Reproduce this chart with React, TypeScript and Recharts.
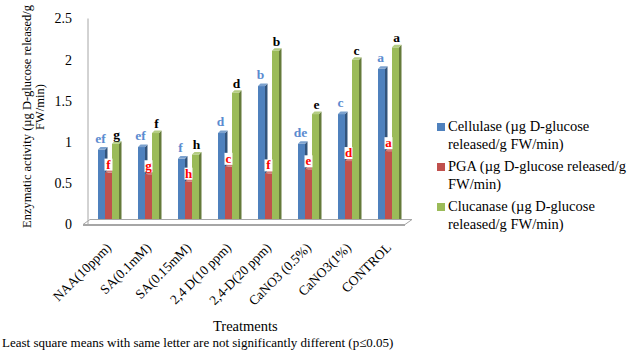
import React from 'react';
import { BarChart, Bar, XAxis, YAxis, LabelList, ReferenceLine, Legend } from 'recharts';

const categories = ['NAA(10ppm)', 'SA(0.1mM)', 'SA(0.15mM)', '2,4 D(10 ppm)', '2,4-D(20 ppm)', 'CaNO3 (0.5%)', 'CaNO3(1%)', 'CONTROL'];
const cellulase = [0.91, 0.94, 0.80, 1.11, 1.68, 0.98, 1.34, 1.89];
const pga = [0.63, 0.61, 0.52, 0.70, 0.62, 0.67, 0.77, 0.89];
const glucanase = [0.98, 1.11, 0.85, 1.60, 2.11, 1.34, 2.00, 2.15];
const cellulaseLetters = ['ef', 'ef', 'f', 'd', 'b', 'de', 'c', 'a'];
const pgaLetters = ['f', 'g', 'h', 'c', 'f', 'e', 'd', 'a'];
const glucanaseLetters = ['g', 'f', 'h', 'd', 'b', 'e', 'c', 'a'];
const yTicks = [0, 0.5, 1, 1.5, 2, 2.5];
const seriesNames = [
  'Cellulase (µg D-glucose released/g  FW/min)',
  'PGA (µg D-glucose released/g FW/min)',
  'Clucanase (µg D-glucose released/g  FW/min)',
];

const data = categories.map((c, i) => ({
  name: c,
  cellulase: cellulase[i],
  pga: pga[i],
  glucanase: glucanase[i],
  cl: cellulaseLetters[i],
  pl: pgaLetters[i],
  gl: glucanaseLetters[i],
}));

const FONT = '"Liberation Serif", "Times New Roman", serif';
const BLUE = '#4F81BD';
const RED = '#C0504D';
const GREEN = '#9BBB59';

function shade(hex: string, f: number) {
  const n = parseInt(hex.slice(1), 16);
  const r = (n >> 16) & 255, g = (n >> 8) & 255, b = n & 255;
  const m = (v: number) => Math.max(0, Math.min(255, Math.round(f < 1 ? v * f : v + (255 - v) * (f - 1))));
  return `rgb(${m(r)},${m(g)},${m(b)})`;
}

const make3D = (color: string) => (props: any) => {
  const { x, y, width, height } = props;
  if (height == null || width == null) return null;
  const d = 2.5;
  return (
    <g>
      <rect x={x} y={y} width={width} height={height} fill={color} />
      <polygon
        points={`${x + width},${y} ${x + width + d},${y - d} ${x + width + d},${y + height - d} ${x + width},${y + height}`}
        fill={shade(color, 0.65)}
      />
      <polygon
        points={`${x},${y} ${x + d},${y - d} ${x + width + d},${y - d} ${x + width},${y}`}
        fill={shade(color, 1.25)}
      />
    </g>
  );
};

const blueLabel = (props: any) => {
  const { x, y, width, value } = props;
  return (
    <text x={x + width / 2 - 1} y={y - 7} textAnchor="middle" fill="#5B8BD0" fontFamily={FONT} fontWeight="bold" fontSize={13.5}>
      {value}
    </text>
  );
};

const redLabel = (props: any) => {
  const { x, y, width, value } = props;
  const w = value.length * 7 + 1;
  return (
    <g>
      <rect x={x + width / 2 - w / 2} y={y - 14} width={w} height={12} fill="#fff" />
      <text x={x + width / 2} y={y - 4} textAnchor="middle" fill="#FF0000" fontFamily={FONT} fontWeight="bold" fontSize={13}>
        {value}
      </text>
    </g>
  );
};

const blackLabel = (props: any) => {
  const { x, y, width, value } = props;
  return (
    <text x={x + width / 2 + 1} y={y - 5} textAnchor="middle" fill="#000" fontFamily={FONT} fontWeight="bold" fontSize={13.5}>
      {value}
    </text>
  );
};

const XTick = (props: any) => {
  const { x, y, payload } = props;
  const tx = x + 4;
  const ty = y + 16;
  return (
    <text
      x={tx}
      y={ty}
      transform={`rotate(-45, ${tx}, ${ty})`}
      textAnchor="end"
      fontFamily={FONT}
      fontSize={13.5}
      fill="#000"
    >
      {payload.value}
    </text>
  );
};

const Floor = (props: any) => {
  const { x1, y1, x2 } = props;
  if (x1 == null) return null;
  return (
    <g>
      <polygon
        points={`${x1 - 5},${y1} ${x1 + 2},${y1 - 5} ${x2 + 4},${y1 - 5} ${x2 - 3},${y1}`}
        fill="#fff"
        stroke="#A6A6A6"
        strokeWidth={1}
      />
      <line x1={x1 - 5} y1={y1 + 1} x2={x2 - 3} y2={y1 + 1} stroke="#A6A6A6" strokeWidth={1} />
    </g>
  );
};

const colors = [BLUE, RED, GREEN];

const LegendContent = () => (
  <div style={{ fontFamily: FONT, fontSize: 14.5, color: '#000', lineHeight: '17.5px' }}>
    {seriesNames.map((n, i) => (
      <div key={i} style={{ position: 'relative', paddingLeft: 11, marginBottom: 5, width: 185 }}>
        <span style={{ position: 'absolute', left: 0, top: 5, width: 8, height: 8, background: colors[i] }} />
        {n}
      </div>
    ))}
  </div>
);

const YLabel = () => (
  <text fontFamily={FONT} fontSize={12.5} fill="#000" transform="rotate(-90, 0, 0)">
    <tspan x={-228} y={31} textAnchor="start">Enzymatic activity (µg D-glucose released/g</tspan>
    <tspan x={-107} y={44} textAnchor="middle">FW/min)</tspan>
  </text>
);

export default function App() {
  return (
    <div style={{ position: 'absolute', left: 0, top: 0, width: 634, height: 356, background: '#fff' }}>
      <BarChart
        width={634}
        height={356}
        data={data}
        margin={{ top: 18.5, right: 226, bottom: 71.5, left: 0 }}
        barCategoryGap="25%"
        barGap={0}
      >
        <XAxis
          dataKey="name"
          height={60}
          axisLine={false}
          tickLine={false}
          interval={0}
          tick={<XTick />}
        />
        <YAxis
          width={88}
          domain={[0, 2.5]}
          ticks={yTicks}
          tickLine={false}
          axisLine={{ stroke: '#A6A6A6' }}
          tickMargin={10}
          tick={{ fontFamily: FONT, fontSize: 14, fill: '#000' }}
          label={<YLabel />}
        />
        <ReferenceLine y={0} shape={<Floor />} ifOverflow="visible" />
        <Bar dataKey="cellulase" fill={BLUE} shape={make3D(BLUE)} isAnimationActive={false}>
          <LabelList dataKey="cl" content={blueLabel} />
        </Bar>
        <Bar dataKey="pga" fill={RED} shape={make3D(RED)} isAnimationActive={false}>
          <LabelList dataKey="pl" content={redLabel} />
        </Bar>
        <Bar dataKey="glucanase" fill={GREEN} shape={make3D(GREEN)} isAnimationActive={false}>
          <LabelList dataKey="gl" content={blackLabel} />
        </Bar>
        <Legend
          layout="horizontal"
          verticalAlign="middle"
          align="center"
          content={<LegendContent />}
          wrapperStyle={{ left: 437, top: 118, width: 197, height: 120 }}
        />
      </BarChart>
      <div style={{ position: 'absolute', left: 213, top: 318, fontFamily: FONT, fontSize: 14.5 }}>Treatments</div>
      <div style={{ position: 'absolute', left: 2, top: 335, fontFamily: FONT, fontSize: 13, whiteSpace: 'nowrap' }}>
        Least square means with same letter are not significantly different (p≤0.05)
      </div>
    </div>
  );
}
